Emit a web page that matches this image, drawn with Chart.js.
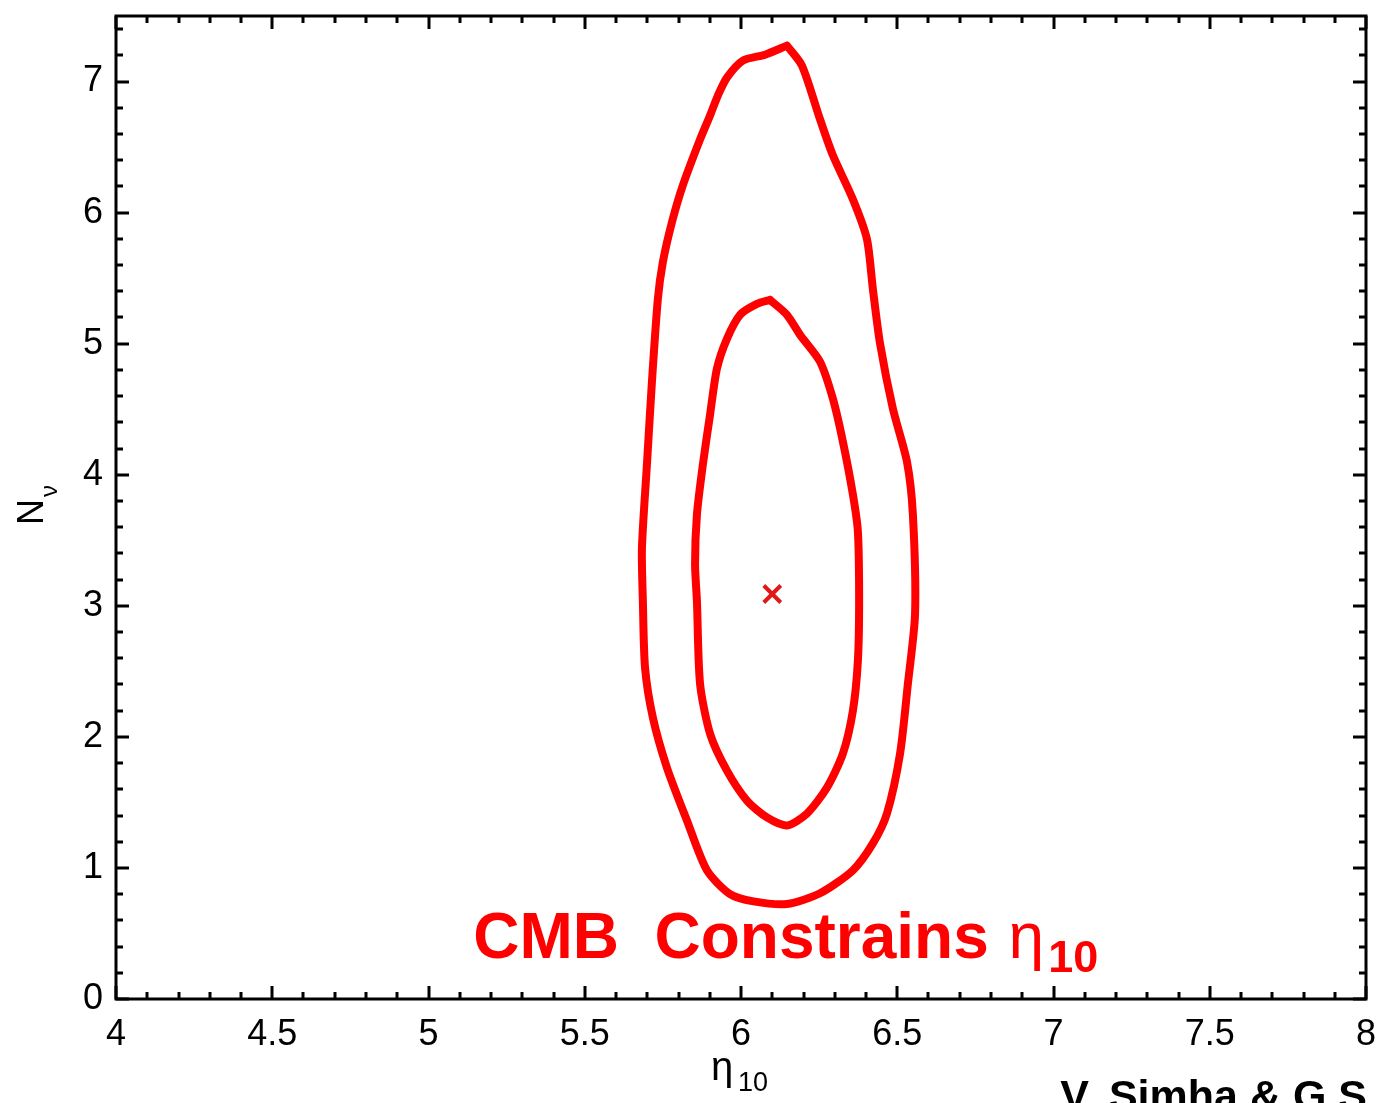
<!DOCTYPE html>
<html>
<head>
<meta charset="utf-8">
<script src="https://cdn.jsdelivr.net/npm/chart.js@4.4.1/dist/chart.umd.min.js"></script>
<style>
html,body{margin:0;padding:0;background:#fff;}
#wrap{width:1384px;height:1103px;position:relative;}
</style>
</head>
<body>
<div id="wrap"><canvas id="c"></canvas></div>
<script>
// ---- data ----
const outerX = [6.147,6.195,6.253,6.294,6.358,6.403,6.422,6.445,6.486,6.531,6.550,6.557,6.534,6.509,6.467,6.422,6.358,6.253,6.147,6.040,5.965,5.891,5.827,5.763,5.718,5.693,5.686,5.683,5.699,5.715,5.734,5.750,5.779,5.814,5.869,5.901,5.926,5.955,6.006,6.077,6.147];
const outerY = [7.274,7.122,6.711,6.437,6.102,5.798,5.417,5.000,4.504,4.101,3.698,2.937,2.404,1.872,1.415,1.187,0.982,0.807,0.725,0.745,0.800,0.982,1.362,1.765,2.146,2.526,3.036,3.439,4.078,4.710,5.341,5.623,5.927,6.209,6.559,6.741,6.893,7.030,7.160,7.205,7.274];
const innerX = [6.093,6.147,6.189,6.253,6.294,6.326,6.358,6.374,6.378,6.374,6.358,6.326,6.275,6.211,6.147,6.083,6.019,5.955,5.901,5.869,5.859,5.853,5.859,5.878,5.901,5.923,5.955,5.997,6.051,6.093];
const innerY = [5.334,5.220,5.067,4.862,4.580,4.253,3.850,3.568,3.036,2.579,2.199,1.872,1.613,1.415,1.324,1.385,1.514,1.742,2.024,2.404,3.036,3.317,3.698,4.078,4.459,4.809,5.037,5.220,5.303,5.334];
const bestFit = {x: 6.10, y: 3.09};
const xTickValues = [4,4.5,5,5.5,6,6.5,7,7.5,8];
const xTickLabels = ['4','4.5','5','5.5','6','6.5','7','7.5','8'];
const yTickValues = [0,1,2,3,4,5,6,7];
const yTickLabels = ['0','1','2','3','4','5','6','7'];
const xRange = [4, 8];
const yRange = [0, 7.5];
const xMinorStep = 0.1, xMajorStep = 0.5;
const yMinorStep = 0.2, yMajorStep = 1;
const annotationMain = 'CMB  Constrains ';
const annotationSym = '\u03B7';
const annotationSub = '10';
const xTitleMain = '\u03B7', xTitleSub = '10';
const yTitleMain = 'N', yTitleSub = '\u03BD';
const creditText = 'V. Simha & G.S';

const RED = '#ff0000';
const FONT = '"Liberation Sans", Arial, Helvetica, sans-serif';

function toPts(xs, ys){ return xs.map((x,i)=>({x:x, y:ys[i]})); }

const decor = {
  id: 'decor',
  afterDraw(chart){
    const ctx = chart.ctx, a = chart.chartArea;
    const xs = chart.scales.x, ys = chart.scales.y;
    ctx.save();
    ctx.strokeStyle = '#000';
    ctx.lineWidth = 3;
    ctx.lineCap = 'butt';
    // tick marks on all four sides (inward)
    const nX = Math.round((xRange[1]-xRange[0])/xMinorStep);
    for (let i=0;i<=nX;i++){
      const v = xRange[0] + i*xMinorStep;
      const major = Math.abs(v/xMajorStep - Math.round(v/xMajorStep)) < 1e-6;
      const len = major ? 13 : 7;
      const px = Math.round(xs.getPixelForValue(v));
      ctx.beginPath();
      ctx.moveTo(px, a.bottom); ctx.lineTo(px, a.bottom - len);
      ctx.moveTo(px, a.top); ctx.lineTo(px, a.top + len);
      ctx.stroke();
    }
    const nY = Math.floor((yRange[1]-yRange[0])/yMinorStep + 1e-6);
    for (let i=0;i<=nY;i++){
      const v = yRange[0] + i*yMinorStep;
      const major = Math.abs(v/yMajorStep - Math.round(v/yMajorStep)) < 1e-6;
      const len = major ? 13 : 7;
      const py = Math.round(ys.getPixelForValue(v));
      ctx.beginPath();
      ctx.moveTo(a.left, py); ctx.lineTo(a.left + len, py);
      ctx.moveTo(a.right, py); ctx.lineTo(a.right - len, py);
      ctx.stroke();
    }
    // frame
    ctx.strokeRect(a.left, a.top, a.right - a.left, a.bottom - a.top);

    // axis titles
    ctx.fillStyle = '#000';
    ctx.textBaseline = 'alphabetic';
    ctx.textAlign = 'left';
    ctx.font = '40px ' + FONT;
    ctx.fillText(xTitleMain, 711, 1080);
    ctx.font = '27px ' + FONT;
    ctx.fillText(xTitleSub, 738, 1091);

    ctx.save();
    ctx.translate(43, 525);
    ctx.rotate(-Math.PI/2);
    ctx.font = '36px ' + FONT;
    ctx.fillText(yTitleMain, 0, 0);
    const wN = ctx.measureText(yTitleMain).width;
    ctx.font = '24px ' + FONT;
    ctx.fillText(yTitleSub, wN + 2, 14);
    ctx.restore();

    // annotation in the plot
    ctx.fillStyle = RED;
    ctx.font = 'bold 64px ' + FONT;
    const ax = xs.getPixelForValue(5.143), ay = ys.getPixelForValue(0.312);
    ctx.fillText(annotationMain, ax, ay);
    let w = ctx.measureText(annotationMain).width;
    ctx.font = '64px ' + FONT;
    ctx.fillText(annotationSym, ax + w + 2, ay);
    const w2 = ctx.measureText(annotationSym).width;
    ctx.font = 'bold 45px ' + FONT;
    ctx.fillText(annotationSub, ax + w + w2 + 6, ay + 14);

    // credit
    ctx.fillStyle = '#000';
    ctx.font = 'bold 43px ' + FONT;
    ctx.textAlign = 'right';
    ctx.fillText(creditText, 1367, 1110);
    ctx.restore();
  }
};

new Chart(document.getElementById('c'), {
  type: 'scatter',
  data: {
    datasets: [
      { label: 'outer', data: toPts(outerX, outerY), showLine: true, borderColor: RED, backgroundColor: RED,
        borderWidth: 8, pointRadius: 0, tension: 0.25, fill: false, borderJoinStyle: 'round', borderCapStyle: 'round' },
      { label: 'inner', data: toPts(innerX, innerY), showLine: true, borderColor: RED, backgroundColor: RED,
        borderWidth: 8, pointRadius: 0, tension: 0.25, fill: false, borderJoinStyle: 'round', borderCapStyle: 'round' },
      { label: 'best', data: [bestFit], showLine: false, pointStyle: 'crossRot', pointRadius: 12,
        borderColor: '#e01818', borderWidth: 4, pointHoverRadius: 12 }
    ]
  },
  options: {
    responsive: true,
    maintainAspectRatio: false,
    animation: false,
    events: [],
    layout: { padding: { top: 13, right: 18, left: 0, bottom: 0 } },
    plugins: { legend: { display: false }, tooltip: { enabled: false }, title: { display: false } },
    scales: {
      x: {
        type: 'linear', min: xRange[0], max: xRange[1],
        afterBuildTicks: s => { s.ticks = xTickValues.map(v => ({ value: v })); },
        afterFit: s => { s.height = 104; s.paddingLeft = 0; s.paddingRight = 0; },
        grid: { display: false, drawTicks: false },
        border: { display: false },
        ticks: { color: '#000', font: { size: 36, family: FONT }, padding: 14, maxRotation: 0, autoSkip: false,
          callback: (v) => { const i = xTickValues.indexOf(v); return i >= 0 ? xTickLabels[i] : ''; } }
      },
      y: {
        type: 'linear', min: yRange[0], max: yRange[1],
        afterBuildTicks: s => { s.ticks = yTickValues.map(v => ({ value: v })); },
        afterFit: s => { s.width = 116; s.paddingTop = 0; s.paddingBottom = 0; },
        grid: { display: false, drawTicks: false },
        border: { display: false },
        ticks: { color: '#000', font: { size: 36, family: FONT, lineHeight: 0.6 }, padding: 13, autoSkip: false,
          callback: (v) => { const i = yTickValues.indexOf(v); return i >= 0 ? yTickLabels[i] : ''; } }
      }
    }
  },
  plugins: [decor]
});
</script>
</body>
</html>
